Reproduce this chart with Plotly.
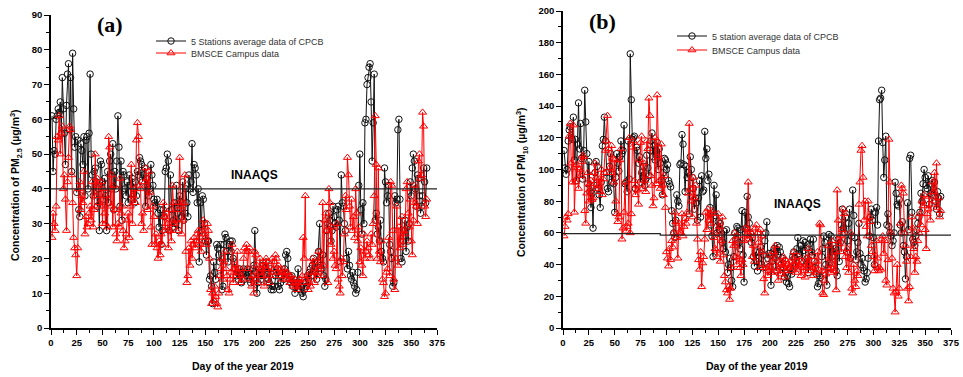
import plotly.graph_objects as go

# ---------------- data (one value per day) ----------------
pm25_cpcb = [
    61, 45, 51, 50, 60, 61, 63, 62, 65, 56, 72, 63, 56, 47, 64, 73, 76, 57, 72, 45, 79, 63, 52, 55, 39,
    54, 34, 32, 53, 51, 47, 55, 38, 54, 55, 40, 56, 73, 50, 44, 38, 45, 46, 42, 35, 40, 28, 48, 47, 42,
    37, 43, 38, 28, 45, 36, 48, 50, 40, 53, 34, 45, 40, 48, 61, 52, 35, 48, 31, 45, 44, 40, 38, 42, 36,
    44, 41, 37, 43, 40, 36, 42, 38, 45, 44, 49, 48, 47, 42, 44, 46, 35, 43, 41, 38, 40, 47, 44, 41, 37,
    36, 35, 37, 33, 29, 34, 24, 28, 34, 32, 45, 46, 50, 48, 28, 44, 34, 29, 31, 36, 30, 41, 33, 28, 38,
    36, 32, 42, 31, 33, 40, 36, 32, 44, 40, 42, 53, 39, 47, 46, 44, 36, 40, 19, 36, 28, 38, 37, 30, 25,
    21, 25, 25, 14, 15, 12, 7, 19, 16, 14, 24, 23, 21, 19, 24, 11, 12, 24, 27, 26, 22, 19, 24, 25, 22,
    25, 20, 19, 17, 15, 16, 14, 17, 15, 13, 16, 17, 14, 16, 15, 17, 16, 14, 13, 15, 17, 18, 28, 16, 10,
    13, 15, 17, 14, 16, 18, 15, 17, 19, 16, 14, 13, 17, 11, 12, 11, 12, 15, 16, 17, 12, 11, 13, 15, 16,
    14, 17, 21, 22, 20, 15, 14, 13, 15, 12, 14, 10, 13, 12, 17, 13, 11, 12, 10, 9, 11, 13, 12, 15, 14,
    16, 17, 15, 18, 20, 17, 16, 14, 19, 22, 30, 18, 17, 21, 15, 12, 14, 28, 30, 33, 31, 25, 28, 35, 32,
    30, 29, 34, 35, 31, 19, 44, 36, 35, 30, 28, 20, 17, 22, 18, 15, 14, 16, 13, 12, 10, 11, 16, 41, 50,
    34, 27, 36, 30, 59, 60, 70, 72, 75, 76, 65, 48, 59, 73, 31, 33, 27, 29, 25, 31, 22, 20, 19, 46, 42,
    36, 38, 41, 24, 22, 20, 12, 13, 38, 36, 37, 57, 60, 37, 20, 19, 25, 28, 31, 22, 29, 25, 30, 42, 38,
    46, 50, 48, 40, 35, 44, 43, 38, 33, 35, 38, 46, 42, 36, 46,
]
pm25_campus = [
    26, 33, 30, 28, 35, 55, 54, 61, 50, 56, 58, 40, 44, 37, 28, 42, 49, 58, 57, 44, 36, 26, 23, 21, 15,
    23, 40, 42, 34, 38, 36, 45, 27, 32, 29, 30, 33, 35, 31, 42, 29, 34, 50, 38, 43, 41, 36, 35, 42, 30,
    40, 33, 30, 38, 29, 55, 52, 35, 44, 29, 41, 34, 27, 25, 30, 29, 43, 33, 35, 28, 23, 25, 27, 31, 33,
    26, 35, 47, 30, 38, 40, 36, 54, 59, 55, 41, 40, 30, 33, 28, 42, 46, 43, 34, 45, 39, 29, 24, 35, 32,
    24, 27, 23, 20, 25, 21, 27, 24, 36, 32, 28, 33, 30, 23, 34, 28, 25, 41, 36, 30, 31, 28, 34, 36, 49,
    35, 27, 31, 36, 44, 22, 13, 15, 23, 18, 25, 20, 24, 26, 23, 25, 27, 28, 25, 24, 22, 29, 31, 27, 26,
    24, 30, 28, 20, 11, 7, 10, 8, 12, 9, 7, 6, 10, 15, 17, 20, 14, 19, 22, 17, 15, 11, 10, 14, 16,
    24, 13, 17, 18, 15, 22, 16, 17, 13, 15, 14, 20, 23, 22, 24, 17, 22, 23, 14, 12, 15, 10, 22, 21, 18,
    13, 16, 20, 17, 15, 19, 12, 18, 20, 17, 19, 13, 15, 16, 20, 17, 19, 21, 20, 16, 18, 15, 17, 16, 14,
    17, 15, 16, 14, 16, 15, 13, 15, 14, 12, 13, 14, 12, 11, 13, 12, 14, 13, 15, 26, 20, 38, 14, 15, 11,
    13, 12, 16, 20, 19, 13, 16, 18, 15, 22, 20, 17, 15, 36, 18, 31, 33, 28, 13, 40, 36, 24, 29, 20, 22,
    18, 17, 30, 14, 12, 10, 20, 15, 19, 27, 38, 34, 49, 44, 35, 29, 37, 28, 32, 26, 40, 33, 25, 29, 19,
    23, 18, 15, 27, 20, 22, 25, 23, 21, 20, 27, 24, 30, 38, 61, 47, 20, 46, 22, 19, 25, 14, 13, 9, 10,
    16, 17, 26, 15, 42, 41, 28, 14, 11, 20, 35, 18, 29, 23, 26, 32, 24, 28, 27, 40, 42, 33, 29, 37, 25,
    21, 31, 41, 36, 35, 30, 48, 50, 43, 44, 62, 58, 35, 32, 37,
]
pm10_cpcb = [
    112, 101, 97, 100, 118, 125, 127, 120, 119, 133, 106, 119, 93, 116, 142, 113, 129, 107, 94, 112, 150, 130, 110, 91, 105,
    86, 76, 85, 63, 90, 98, 105, 102, 88, 84, 76, 92, 115, 119, 133, 118, 98, 88, 86, 102, 110, 92, 97, 91, 73,
    95, 110, 104, 99, 108, 118, 110, 112, 128, 91, 92, 86, 118, 94, 173, 144, 119, 120, 121, 88, 114, 112, 104, 108, 92,
    98, 96, 102, 90, 94, 109, 101, 96, 112, 118, 123, 108, 115, 106, 112, 117, 100, 113, 104, 93, 84, 98, 107, 106, 100,
    103, 93, 91, 89, 74, 66, 60, 57, 68, 84, 80, 77, 103, 104, 122, 116, 103, 86, 102, 95, 98, 72, 108, 100, 95,
    88, 75, 82, 79, 68, 82, 93, 70, 96, 86, 87, 124, 107, 113, 93, 97, 76, 65, 58, 45, 90, 71, 84, 60, 67,
    62, 66, 59, 54, 50, 61, 48, 62, 35, 40, 44, 38, 30, 26, 45, 60, 56, 64, 63, 54, 50, 62, 74, 46, 29,
    73, 63, 83, 70, 66, 60, 54, 57, 45, 39, 48, 42, 36, 44, 48, 51, 40, 38, 46, 55, 60, 67, 44, 47, 39,
    27, 42, 48, 50, 44, 36, 52, 46, 51, 48, 40, 44, 38, 32, 35, 29, 33, 28, 26, 38, 34, 45, 48, 44, 39,
    50, 57, 47, 46, 52, 42, 55, 49, 54, 40, 44, 35, 53, 56, 48, 46, 56, 42, 38, 34, 26, 28, 33, 32, 45,
    50, 58, 54, 40, 27, 38, 59, 41, 58, 45, 52, 46, 50, 36, 33, 56, 42, 54, 65, 75, 63, 60, 70, 48, 55,
    66, 75, 44, 58, 87, 71, 57, 43, 48, 54, 66, 47, 40, 44, 38, 36, 29, 31, 35, 44, 58, 70, 75, 68, 57,
    40, 73, 76, 65, 118, 144, 145, 150, 117, 95, 106, 121, 65, 72, 64, 60, 58, 52, 55, 60, 92, 85, 78, 77, 81,
    65, 60, 67, 52, 48, 31, 45, 79, 62, 107, 109, 73, 56, 54, 52, 58, 62, 66, 70, 73, 85, 80, 91, 100, 95,
    90, 88, 96, 78, 85, 84, 93, 88, 92, 80, 75, 86, 82, 72, 83,
]
pm10_campus = [
    58, 64, 70, 68, 72, 121, 129, 104, 92, 128, 73, 92, 103, 101, 88, 100, 96, 105, 109, 108, 74, 66, 85, 98, 80,
    91, 93, 81, 82, 98, 104, 95, 88, 90, 94, 86, 100, 84, 94, 98, 112, 118, 134, 113, 101, 98, 115, 107, 92, 106,
    80, 72, 67, 70, 106, 113, 56, 63, 73, 92, 61, 64, 66, 120, 60, 72, 114, 118, 93, 84, 90, 87, 78, 106, 117,
    121, 88, 104, 93, 86, 118, 113, 145, 134, 96, 90, 77, 82, 120, 91, 147, 108, 93, 88, 116, 90, 84, 96, 76, 48,
    44, 39, 50, 43, 55, 51, 60, 73, 67, 57, 44, 66, 61, 60, 72, 58, 64, 69, 66, 73, 85, 129, 88, 80, 70,
    95, 82, 90, 66, 56, 43, 37, 48, 26, 41, 45, 56, 73, 62, 75, 68, 72, 66, 74, 60, 57, 50, 49, 45, 72,
    64, 42, 55, 70, 46, 33, 29, 24, 22, 26, 18, 25, 38, 55, 52, 60, 45, 40, 58, 44, 38, 33, 43, 40, 55,
    63, 59, 56, 92, 62, 58, 60, 45, 52, 42, 63, 65, 60, 54, 38, 62, 58, 48, 31, 22, 40, 38, 33, 36, 46,
    38, 35, 42, 48, 52, 44, 36, 30, 40, 34, 41, 38, 45, 32, 43, 36, 40, 38, 42, 36, 39, 44, 48, 40, 35,
    42, 37, 45, 40, 33, 41, 38, 36, 32, 44, 38, 50, 40, 36, 45, 38, 33, 39, 35, 42, 48, 37, 66, 65, 36,
    22, 21, 30, 34, 38, 52, 44, 37, 35, 55, 40, 36, 48, 24, 87, 68, 53, 58, 48, 62, 75, 72, 45, 38, 50,
    35, 44, 60, 25, 22, 40, 30, 26, 36, 33, 78, 92, 112, 115, 95, 68, 80, 64, 58, 80, 70, 67, 52, 48, 45,
    36, 40, 55, 44, 36, 38, 37, 56, 58, 47, 55, 30, 27, 43, 119, 92, 60, 44, 25, 22, 10, 23, 40, 20, 25,
    66, 90, 88, 85, 60, 52, 42, 25, 17, 26, 45, 70, 63, 50, 35, 45, 42, 55, 60, 72, 65, 80, 77, 84, 62,
    50, 72, 75, 83, 68, 78, 92, 86, 98, 80, 104, 76, 82, 70, 74,
]
x_ticks = [0, 25, 50, 75, 100, 125, 150, 175, 200, 225, 250, 275, 300, 325, 350, 375]
y_ticks_pm25 = [0, 10, 20, 30, 40, 50, 60, 70, 80, 90]
y_ticks_pm10 = [0, 20, 40, 60, 80, 100, 120, 140, 160, 180, 200]
inaaqs_pm25_x = [0, 375]
inaaqs_pm25_y = [40, 40]
inaaqs_pm10_x = [0, 94, 94, 375]
inaaqs_pm10_y = [59.6, 59.6, 58.6, 58.6]

W, H = 963, 377
SANS = "Arial, Liberation Sans, sans-serif"
SERIF = "Times New Roman, Liberation Serif, serif"


def days(arr):
    return list(range(1, len(arr) + 1))


def px_x(p):
    return p / W


def px_y(p):
    return 1 - p / H


fig = go.Figure()


def add_panel(xa, ya, black, red, lx, ly, black_name, leg_black, leg_red):
    fig.add_trace(go.Scatter(
        x=days(black), y=black, xaxis=xa, yaxis=ya, mode="lines+markers",
        name=black_name, legend=leg_black,
        line=dict(color="#111111", width=1),
        marker=dict(symbol="circle-open", size=6.5, color="#111111", line=dict(width=1)),
    ))
    fig.add_trace(go.Scatter(
        x=days(red), y=red, xaxis=xa, yaxis=ya, mode="lines+markers",
        name="BMSCE Campus data", legend=leg_red,
        line=dict(color="#ff0000", width=1),
        marker=dict(symbol="triangle-up-open", size=7, color="#ff0000", line=dict(width=1)),
    ))
    fig.add_trace(go.Scatter(
        x=lx, y=ly, xaxis=xa, yaxis=ya, mode="lines", showlegend=False,
        line=dict(color="#222222", width=1.2), hoverinfo="skip",
    ))


add_panel("x", "y", pm25_cpcb, pm25_campus, inaaqs_pm25_x, inaaqs_pm25_y,
          "5 Stations average data of CPCB", "legend", "legend2")
add_panel("x2", "y2", pm10_cpcb, pm10_campus, inaaqs_pm10_x, inaaqs_pm10_y,
          "5 station average data of CPCB", "legend3", "legend4")

tickfont = dict(family=SANS, size=9.5, color="black", weight="bold")


def xaxis(domain, anchor):
    return dict(
        domain=domain, anchor=anchor, range=[0, 375], tickvals=x_ticks, automargin=False,
        ticklabeloverflow="allow",
        showline=True, linecolor="black", linewidth=1.5, ticks="outside",
        ticklen=5, tickwidth=1.2, tickcolor="black", tickfont=tickfont,
        showgrid=False, zeroline=False,
        minor=dict(ticks="outside", ticklen=3, tickwidth=1, tickcolor="black", dtick=12.5, tick0=0, showgrid=False),
    )


def yaxis(domain, anchor, top, ticks):
    step = ticks[1] - ticks[0]
    return dict(
        domain=domain, anchor=anchor, range=[0, top], tickvals=ticks, automargin=False,
        ticklabeloverflow="allow",
        showline=True, linecolor="black", linewidth=1.5, ticks="outside",
        ticklen=5, tickwidth=1.2, tickcolor="black", tickfont=tickfont,
        showgrid=False, zeroline=False,
        minor=dict(ticks="outside", ticklen=3, tickwidth=1, tickcolor="black", dtick=step / 2, tick0=0, showgrid=False),
    )


legfont = dict(family=SANS, size=9, color="#333333")


def legend(xpx, ypx):
    return dict(x=px_x(xpx), y=px_y(ypx), xanchor="left", yanchor="middle",
                bgcolor="rgba(0,0,0,0)", font=legfont, itemwidth=30, tracegroupgap=0)


fig.update_layout(
    width=W, height=H, margin=dict(l=0, r=0, t=0, b=0, autoexpand=False),
    paper_bgcolor="white", plot_bgcolor="white",
    xaxis=xaxis([px_x(51), px_x(437)], "y"),
    yaxis=yaxis([px_y(328), px_y(15)], "x", 90, y_ticks_pm25),
    xaxis2=xaxis([px_x(563), px_x(951)], "y2"),
    yaxis2=yaxis([px_y(328), px_y(11)], "x2", 200, y_ticks_pm10),
    legend=legend(151, 41),
    legend2=legend(151, 53),
    legend3=legend(672, 36),
    legend4=legend(672, 50),
    showlegend=True,
)

titlefont = dict(family=SANS, size=10.5, color="black", weight="bold")
ann = [
    dict(text="(a)", x=px_x(110), y=px_y(25), font=dict(family=SERIF, size=22, color="black", weight="bold")),
    dict(text="(b)", x=px_x(602), y=px_y(22), font=dict(family=SERIF, size=22, color="black", weight="bold")),
    dict(text="INAAQS", x=px_x(255), y=px_y(175), font=dict(family=SANS, size=12, color="black", weight="bold")),
    dict(text="INAAQS", x=px_x(797), y=px_y(204), font=dict(family=SANS, size=12, color="black", weight="bold")),
    dict(text="Day of the year 2019", x=px_x(243), y=px_y(366), font=titlefont),
    dict(text="Day of the year 2019", x=px_x(757), y=px_y(366), font=titlefont),
    dict(text="Concentration of PM<sub>2.5</sub> (µg/m<sup>3</sup>)", x=px_x(16), y=px_y(185),
         textangle=-90, font=titlefont),
    dict(text="Concentration of PM<sub>10</sub> (µg/m<sup>3</sup>)", x=px_x(522), y=px_y(182),
         textangle=-90, font=titlefont),
]
for a in ann:
    a.update(xref="paper", yref="paper", showarrow=False, xanchor="center", yanchor="middle")
fig.update_layout(annotations=ann)

# remove the default page margin so the figure sits at the window's top-left corner
fig.write_html("out.html", config={"displayModeBar": False},
               post_script="document.body.style.margin='0';")
